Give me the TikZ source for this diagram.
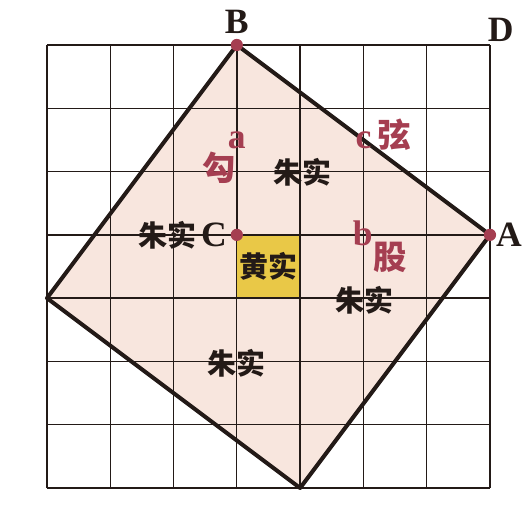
\documentclass[tikz,border=0pt]{standalone}
\usepackage{fontspec}
\setmainfont{Liberation Serif}
\newfontfamily\cjk{Noto Sans CJK SC}
\definecolor{zhu}{HTML}{F8E6DE}
\definecolor{huang}{HTML}{E9C847}
\definecolor{hong}{HTML}{A53E51}
\definecolor{mo}{HTML}{231A17}

\begin{document}
\begin{tikzpicture}[
	gridline/.style={draw=mo, line width=0.6pt},
	legline/.style={draw=mo, line width=1pt},
	sideline/.style={draw=mo, line width=1.8pt, line join=round},
	dot/.style={shape=circle, fill=hong, inner sep=0pt, minimum size=5.5pt},
	ptlabel/.style={text=mo, font=\bfseries\fontsize{16}{16}\selectfont},
	redlabel/.style={text=hong, font=\bfseries\fontsize{16}{16}\selectfont},
	redcjk/.style={text=hong, font=\cjk\bfseries\fontsize{15}{15}\selectfont},
	shilabel/.style={text=mo, font=\cjk\bfseries\fontsize{13}{13}\selectfont}
	]
	\useasboundingbox (-0.742,-0.695) rectangle (7.663,7.711);
	
	\coordinate (B) at (3,7);
	\coordinate (A) at (7,4);
	\coordinate (C) at (3,4);
	\coordinate (L) at (0,3);
	\coordinate (M) at (4,0);
	\coordinate (Q) at (4,3);
	
	% squares
	\fill[zhu] (B) -- (A) -- (M) -- (L) -- cycle;
	\fill[huang] (C) rectangle (Q);
	\draw[gridline] (0,0) grid (7,7);
	
	\path [legline] (B) edge (C) (C) edge (A);
	\path [legline] (L) edge (Q) (Q) edge (M);
	\draw[sideline] (B) -- (A) -- (M) -- (L) -- cycle;
	
	\node[dot] (dB) at (B) {};
	\node[dot] (dC) at (C) {};
	\node[dot] (dA) at (A) {};
	
	\node[ptlabel] (lB) at (3,7.37) {B};
	\node[ptlabel] (lD) at (7.17,7.24) {D};
	\node[ptlabel] (lA) at (7.3,4) {A};
	\node[ptlabel] (lC) at (2.64,4) {C};
	
	\node[redlabel] (la) at (3,5.5) {a};
	\node[redlabel] (lc) at (5,5.5) {c};
	\node[redlabel] (lb) at (4.99,4.02) {b};
	\node[redcjk] (gou) at (2.72,5.06) {勾};
	\node[redcjk] (xian) at (5.48,5.58) {弦};
	\node[redcjk] (gu) at (5.43,3.64) {股};
	
	\node[shilabel] (zhu1) at (4.03,4.99) {朱实};
	\node[shilabel] (zhu2) at (1.9,4) {朱实};
	\node[shilabel] (zhu3) at (5.02,2.97) {朱实};
	\node[shilabel] (zhu4) at (3,1.97) {朱实};
	\node[shilabel] (huang) at (3.5,3.5) {黄实};
\end{tikzpicture}
\end{document}
